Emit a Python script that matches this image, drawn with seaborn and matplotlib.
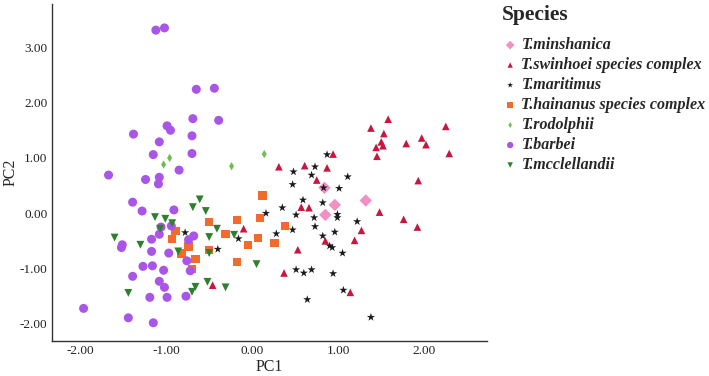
import pandas as pd
import seaborn as sns
import matplotlib.pyplot as plt

sns.set_style("white")
plt.rcParams["font.family"] = ["Liberation Serif", "DejaVu Serif"]

species = ["T.minshanica", "T.swinhoei species complex", "T.maritimus",
           "T.hainanus species complex", "T.rodolphii", "T.barbei", "T.mcclellandii"]

minshanica_x = [0.84, 1.32, 0.96, 0.85]
minshanica_y = [0.46, 0.23, 0.15, -0.03]

swinhoei_x = [-0.10, -0.46, 0.57, 0.66, 1.48, 1.76, 1.92, 1.27, 1.19, 0.85, 0.53, 0.37, 1.14,
              1.93, 1.58, 1.38, 2.25, 1.53, 1.97, 1.50, 1.44, 1.52, 1.79, 2.02, 2.29, 1.45,
              0.94, 0.31, 0.61, 0.87, 0.75]
swinhoei_y = [-0.28, -1.30, 0.11, 0.10, 0.02, -0.11, -0.25, -0.31, -0.49, -0.50, -0.66, -1.08, -1.43,
              0.59, 1.70, 1.54, 1.57, 1.44, 1.36, 1.29, 1.19, 1.22, 1.26, 1.24, 1.08, 1.03,
              1.07, 0.84, 0.86, 0.82, 0.60]

maritimus_x = [-0.78, -0.40, -0.16, 0.47, 0.83, 1.01, 0.59, 0.35, 0.82, 0.16, 0.51, 0.72, 0.99,
               0.99, 0.73, 0.47, 0.28, 0.96, 1.22, 0.82, 0.90, 0.93, 1.05, 0.51, 0.60, 0.69,
               0.94, 1.06, 0.64, 1.38, 0.87, 0.73, 0.48, 0.69, 1.11]
maritimus_y = [-0.35, -0.65, -0.46, 0.52, 0.46, 0.45, 0.24, 0.10, 0.19, 0.00, -0.03, -0.08, -0.02,
               -0.08, -0.24, -0.30, -0.37, -0.34, -0.15, -0.41, -0.59, -0.62, -0.72, -1.02, -1.08, -1.02,
               -1.09, -1.39, -1.56, -1.88, 1.06, 0.84, 0.75, 0.69, 0.66]

hainanus_x = [-0.18, -0.50, -0.89, -0.93, -0.31, -0.74, -0.82, -0.50, -0.05, -0.66, -0.18, -0.70,
              0.12, 0.09, 0.38, 0.07, 0.26]
hainanus_y = [-0.12, -0.16, -0.32, -0.46, -0.38, -0.60, -0.73, -0.67, -0.57, -0.83, -0.88, -1.01,
              0.32, -0.08, -0.23, -0.45, -0.54]

rodolphii_x = [-1.03, -0.96, -0.24, 0.14]
rodolphii_y = [0.88, 1.00, 0.85, 1.07]

barbei_x = [-1.12, -1.02, -0.65, -0.44, -0.69, -0.39, -1.38, -0.99, -0.95, -0.70, -1.08, -1.15, -0.70,
            -1.67, -1.24, -1.08, -0.85, -1.09, -1.39, -1.28, -0.91, -1.06, -0.94, -1.08, -1.17, -0.74,
            -0.68, -1.51, -1.52, -1.17, -0.97, -0.76, -1.27, -1.16, -1.03, -0.72, -1.39, -1.08, -1.02,
            -1.19, -0.99, -0.77, -1.96, -1.44, -1.15]
barbei_y = [3.31, 3.35, 2.24, 2.26, 1.71, 1.68, 1.43, 1.58, 1.50, 1.40, 1.29, 1.06, 1.08,
            0.69, 0.61, 0.65, 0.78, 0.53, 0.20, 0.04, 0.06, -0.25, -0.23, -0.38, -0.47, -0.48,
            -0.41, -0.57, -0.62, -0.69, -0.72, -0.86, -0.96, -0.95, -1.03, -1.04, -1.14, -1.23, -1.34,
            -1.52, -1.52, -1.50, -1.72, -1.89, -1.98]

mcclellandii_x = [-0.61, -0.69, -0.54, -1.13, -1.01, -0.93, -1.07, -0.41, -1.60, -0.50, -0.21, -1.30,
                  -0.86, -0.50, -0.66, -0.70, -0.52, -0.31, -1.44, 0.05]
mcclellandii_y = [0.25, 0.11, 0.04, -0.07, -0.10, -0.18, -0.28, -0.28, -0.44, -0.43, -0.39, -0.57,
                  -0.69, -0.72, -1.33, -1.42, -1.24, -1.34, -1.44, -0.92]

xs = [minshanica_x, swinhoei_x, maritimus_x, hainanus_x, rodolphii_x, barbei_x, mcclellandii_x]
ys = [minshanica_y, swinhoei_y, maritimus_y, hainanus_y, rodolphii_y, barbei_y, mcclellandii_y]

colors = ["#F48FC3", "#C8163F", "#1A1A1A", "#F26B2C", "#6CC04A", "#A855E8", "#2E7F2E"]
markers = ["D", "^", "*", "s", "d", "o", "v"]
sizes = [40, 30, 38, 36, 18, 42, 32]

fig, ax = plt.subplots(figsize=(7.09, 3.76), dpi=100)
fig.subplots_adjust(left=0.073, right=0.687, bottom=0.093, top=0.989)

for name, x, y, c, m, s in zip(species, xs, ys, colors, markers, sizes):
    df = pd.DataFrame({"PC1": x, "PC2": y})
    sns.scatterplot(data=df, x="PC1", y="PC2", ax=ax, color=c, marker=m, s=s,
                    edgecolor="none", linewidth=0, label=name)

ax.set_xlim(-2.33, 2.73)
ax.set_ylim(-2.31, 3.78)
ax.set_xticks([-2, -1, 0, 1, 2])
ax.set_yticks([-2, -1, 0, 1, 2, 3])
ax.set_xticklabels(["%.2f" % v for v in [-2, -1, 0, 1, 2]])
ax.set_yticklabels(["%.2f" % v for v in [-2, -1, 0, 1, 2, 3]])
ax.tick_params(length=0, labelsize=9.5, pad=3, colors="#222222")
ax.set_xlabel("PC1", fontsize=11.5, labelpad=1)
ax.set_ylabel("PC2", fontsize=11.5, labelpad=1)

sns.despine(ax=ax)
for sp in ["left", "bottom"]:
    ax.spines[sp].set_color("#333333")
    ax.spines[sp].set_linewidth(1.0)

leg = ax.legend(loc="upper left", bbox_to_anchor=(1.02, 1.015), frameon=False,
                title="Species", markerscale=0.7, handletextpad=0.2, handlelength=1.0,
                labelspacing=0.25, borderaxespad=0,
                prop={"weight": "bold", "style": "italic", "size": 11.5})
leg.get_title().set_fontweight("bold")
leg.get_title().set_fontsize(15.5)
leg._legend_box.align = "left"
leg._legend_box.sep = 8.5

fig.savefig("out.png", dpi=100)
